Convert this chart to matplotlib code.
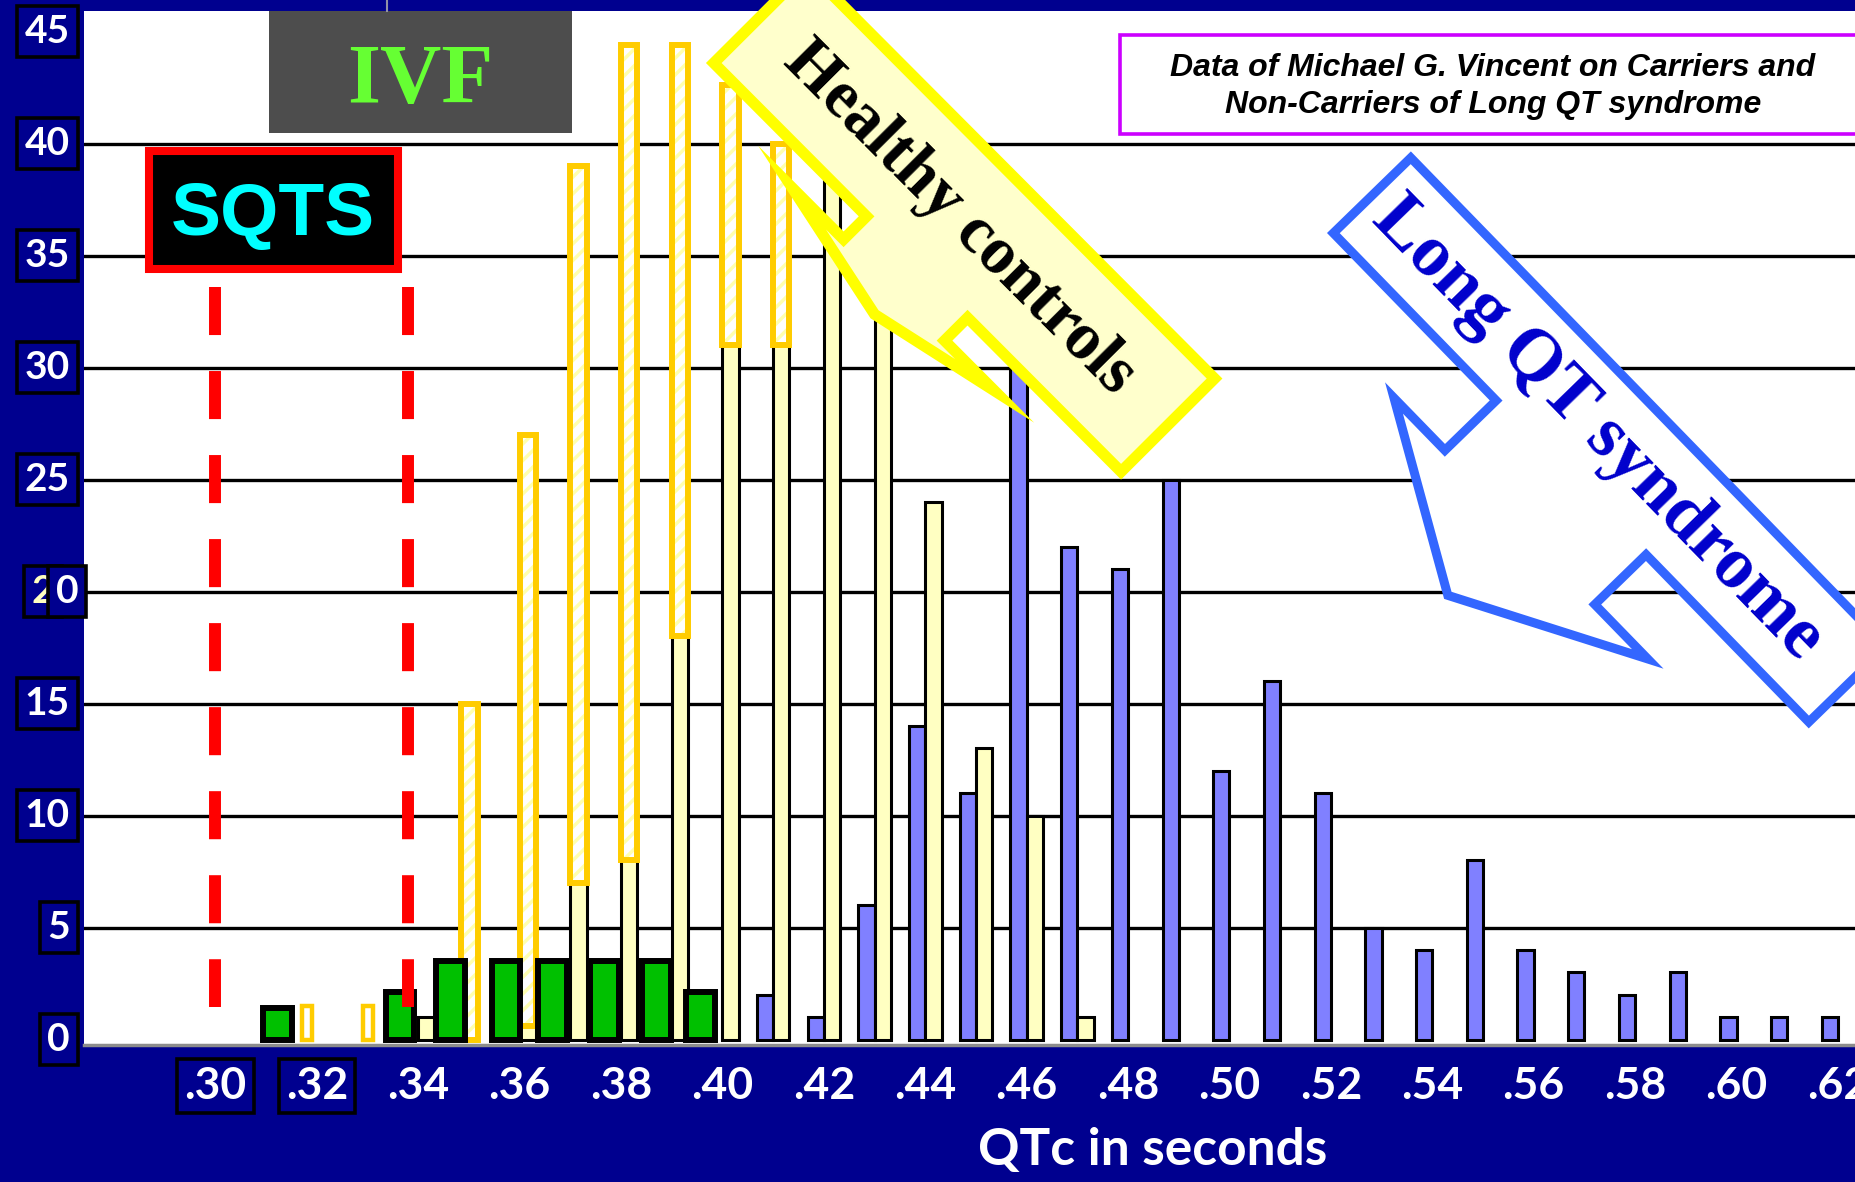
import numpy as np
import matplotlib
matplotlib.use('Agg')
import matplotlib.pyplot as plt
import matplotlib.transforms as mtransforms
from matplotlib.patches import Polygon, Rectangle
from matplotlib.lines import Line2D

W, H = 1855, 1182
NAVY = '#00008F'

# Long QT carriers: QTc bin (s) and count
lqt_qtc = [0.41, 0.42, 0.43, 0.44, 0.45, 0.46, 0.47, 0.48, 0.49, 0.50, 0.51,
           0.52, 0.53, 0.54, 0.55, 0.56, 0.57, 0.58, 0.59, 0.60, 0.61, 0.62]
lqt_count = [2, 1, 6, 14, 11, 33, 22, 21, 25, 12, 16, 11, 5, 4, 8, 4, 3, 2, 3, 1, 1, 1]

# healthy non-carriers
ctrl_qtc = [0.34, 0.36, 0.37, 0.38, 0.39, 0.40, 0.41, 0.42, 0.43, 0.44, 0.45, 0.46, 0.47]
ctrl_count = [1, 0.6, 7, 8, 18, 31, 31, 40, 37, 24, 13, 10, 1]

# control bins that run off the frame, shown as open boxes
over_qtc = [0.3485, 0.36, 0.37, 0.38, 0.39, 0.40, 0.41]
over_low = [0, 0.6, 7, 8, 18, 31, 31]
over_high = [15, 27, 39, 44.4, 44.4, 42.6, 40]

stub_qtc = [0.318, 0.330]
stub_count = [1.5, 1.5]

# idiopathic VF patients
ivf_qtc = [0.3123, 0.3364, 0.3463, 0.3573, 0.3665, 0.3768, 0.3869, 0.3956]
ivf_count = [1.4, 2.1, 3.5, 3.5, 3.5, 3.5, 3.5, 2.1]

sqts_limits = [0.300, 0.338]

x_ticks = [0.30, 0.32, 0.34, 0.36, 0.38, 0.40, 0.42, 0.44, 0.46, 0.48, 0.50,
           0.52, 0.54, 0.56, 0.58, 0.60, 0.62]
x_labels = ['.30', '.32', '.34', '.36', '.38', '.40', '.42', '.44', '.46', '.48',
            '.50', '.52', '.54', '.56', '.58', '.60', '.62']
y_labels = [0, 5, 10, 15, 20, 25, 30, 35, 40, 45]
grid_levels = [5, 10, 15, 20, 25, 30, 35, 40]

plt.rcParams['lines.scale_dashes'] = False
plt.rcParams['hatch.linewidth'] = 2.5


def fig_xy(x, y):
    # pixel position (origin top-left) -> figure fraction
    return x / W, 1 - y / H


fig = plt.figure(figsize=(W / 100, H / 100), dpi=100, facecolor=NAVY)
ax = fig.add_axes([84 / W, 1 - 1045 / H, 1 - 84 / W, (1045 - 11) / H])
ax.set_facecolor('white')
ax.set_xlim(0.27407, 0.62337)
ax.set_ylim(-0.2455, 45.92)

for side in ['top', 'right', 'left']:
    ax.spines[side].set_visible(False)
ax.spines['bottom'].set_color('#8C8C8C')
ax.spines['bottom'].set_linewidth(2.5)

ax.set_yticks(grid_levels)
ax.yaxis.grid(True, color='black', linewidth=2.4)
ax.set_axisbelow(True)
ax.tick_params(axis='y', length=0, labelleft=False)

bw = 0.0032
ax.bar(np.array(lqt_qtc) - bw / 2, lqt_count, width=bw, color='#8080FF',
       edgecolor='black', linewidth=2.2, zorder=2)
ax.bar(np.array(ctrl_qtc) + bw / 2, ctrl_count, width=bw, color='#FFFFC2',
       edgecolor='black', linewidth=2.2, zorder=2)

over_h = np.array(over_high) - np.array(over_low)
ax.bar(np.array(over_qtc) + bw / 2, over_h, bottom=over_low, width=bw,
       color='white', edgecolor='#FFFFB0', hatch='//', linewidth=0, zorder=3)
ax.bar(np.array(over_qtc) + bw / 2, over_h, bottom=over_low, width=bw,
       fill=False, edgecolor='#FFCC00', linewidth=4.3, zorder=3)
ax.bar(stub_qtc, stub_count, width=0.002, color='white',
       edgecolor='#FFCC00', linewidth=3.2, zorder=3)

ax.bar(ivf_qtc, ivf_count, width=0.0057, color='#00C000',
       edgecolor='black', linewidth=4.3, zorder=4)

for xq in sqts_limits:
    ax.plot([xq, xq], [33.6, 1.45], color='#FF0000', linewidth=8.6,
            linestyle=(0, (34.6, 25.9)), solid_capstyle='butt',
            dash_capstyle='butt', zorder=5)

ax.set_xticks(x_ticks, labels=x_labels)
ax.tick_params(axis='x', length=0, pad=15, labelsize=32, labelcolor='white')
for lbl in ax.get_xticklabels():
    lbl.set_fontweight('bold')
    lbl.set_family('Lato')
for lbl in ax.get_xticklabels()[:2]:
    lbl.set_bbox(dict(boxstyle='square,pad=0.16', facecolor=NAVY,
                      edgecolor='black', linewidth=2.6))

ax.set_xlabel('QTc in seconds', fontsize=37, fontweight='bold', color='white',
              family='Lato')
ax.xaxis.set_label_coords((1153 - 84) / 1771, (1045 - 1151) / 1034)
ax.xaxis.label.set_verticalalignment('center')

# y labels in boxes on the left margin
ylab_tr = mtransforms.blended_transform_factory(fig.transFigure, ax.transData)
box = dict(boxstyle='square,pad=0.2', facecolor=NAVY, edgecolor='black', linewidth=2.6)
for val in y_labels:
    if val == 20:
        ax.text(54 / W, val, '2', transform=ylab_tr, ha='right', va='center',
                fontsize=28, fontweight='bold', family='Lato', color='#FFFFC0', bbox=box)
        ax.text(56 / W, val, '0', transform=ylab_tr, ha='left', va='center',
                fontsize=28, fontweight='bold', family='Lato', color='white', bbox=box)
        continue
    ax.text(70 / W, val, str(val), transform=ylab_tr, ha='right', va='center',
            fontsize=28, fontweight='bold', family='Lato', color='white', bbox=box)

# stray tick above the frame
fig.add_artist(Line2D([387 / W, 387 / W], [1, 1 - 11 / H], color='#9090A8',
                      linewidth=1.5, transform=fig.transFigure))

# SQTS label
x0, y0 = fig_xy(149, 269)
fig.add_artist(Rectangle((x0, y0), (398 - 149) / W, (269 - 151) / H,
                         transform=fig.transFigure, facecolor='black',
                         edgecolor='#FF0000', linewidth=5.8))
fig.text(*fig_xy(273, 235), 'SQTS', ha='center', va='baseline', color='#00FFFF',
         fontsize=54, fontweight='bold', family='Liberation Sans')

# IVF label
x0, y0 = fig_xy(269, 133)
fig.add_artist(Rectangle((x0, y0), (572 - 269) / W, (133 - 11) / H,
                         transform=fig.transFigure, facecolor='#4D4D4D', linewidth=0))
fig.text(*fig_xy(420, 103), 'IVF', ha='center', va='baseline', color='#66FF33',
         fontsize=61, fontweight='bold', family='Liberation Serif')

# source note
x0, y0 = fig_xy(1120, 134)
fig.add_artist(Rectangle((x0, y0), (1900 - 1120) / W, (134 - 35) / H,
                         transform=fig.transFigure, facecolor='white',
                         edgecolor='#CC00FF', linewidth=2.6))
fig.text(*fig_xy(1493, 76), 'Data of Michael G. Vincent on Carriers and',
         ha='center', va='baseline', fontsize=23, fontweight='bold',
         style='italic', family='Liberation Sans', color='black')
fig.text(*fig_xy(1493, 113), 'Non-Carriers of Long QT syndrome',
         ha='center', va='baseline', fontsize=23, fontweight='bold',
         style='italic', family='Liberation Sans', color='black')


def callout(corner, angle, length, width, arrow, inset):
    # rotated box with an arrow on its lower-left side, in pixel space
    a = np.radians(angle)
    u = np.array([np.cos(a), np.sin(a)])
    v = np.array([-np.sin(a), np.cos(a)])
    j1, j2, neck, b1, b2, tip_u, tip_v = arrow
    local = [(inset, -width + inset), (length - inset, -width + inset),
             (length - inset, -inset), (j2, -inset), (j2, neck), (b2, neck),
             (tip_u, tip_v), (b1, neck), (j1, neck), (j1, -inset), (inset, -inset)]
    pts = [np.asarray(corner, float) + lu * u + lv * v for lu, lv in local]
    return [fig_xy(px, py) for px, py in pts], u, v


pts, u, v = callout((706, 63), 45.1, 588, 143, (222, 365, 27, 149, 436, 297, 58), 5.5)
fig.add_artist(Polygon(pts, closed=True, transform=fig.transFigure,
                       facecolor='#FFFFCC', edgecolor='#FFFF00', linewidth=8,
                       joinstyle='miter'))
c = np.array([706, 63]) + 289 * u - 70 * v
fig.text(*fig_xy(*c), 'Healthy controls', rotation=-45.1, rotation_mode='anchor',
         ha='center', va='center', fontsize=48, fontweight='bold',
         family='Liberation Serif', color='black')

pts, u, v = callout((1327, 233), 45.8, 691, 117, (238, 453, 67, 165, 529, 344, 166), 4.5)
fig.add_artist(Polygon(pts, closed=True, transform=fig.transFigure,
                       facecolor='white', edgecolor='#3366FF', linewidth=6.5,
                       joinstyle='miter'))
c = np.array([1327, 233]) + 329 * u - 58 * v
fig.text(*fig_xy(*c), 'Long QT syndrome', rotation=-45.8, rotation_mode='anchor',
         ha='center', va='center', fontsize=53, fontweight='bold',
         family='Liberation Serif', color='#0000CC')

fig.savefig('out.png', dpi=100, facecolor=NAVY)
